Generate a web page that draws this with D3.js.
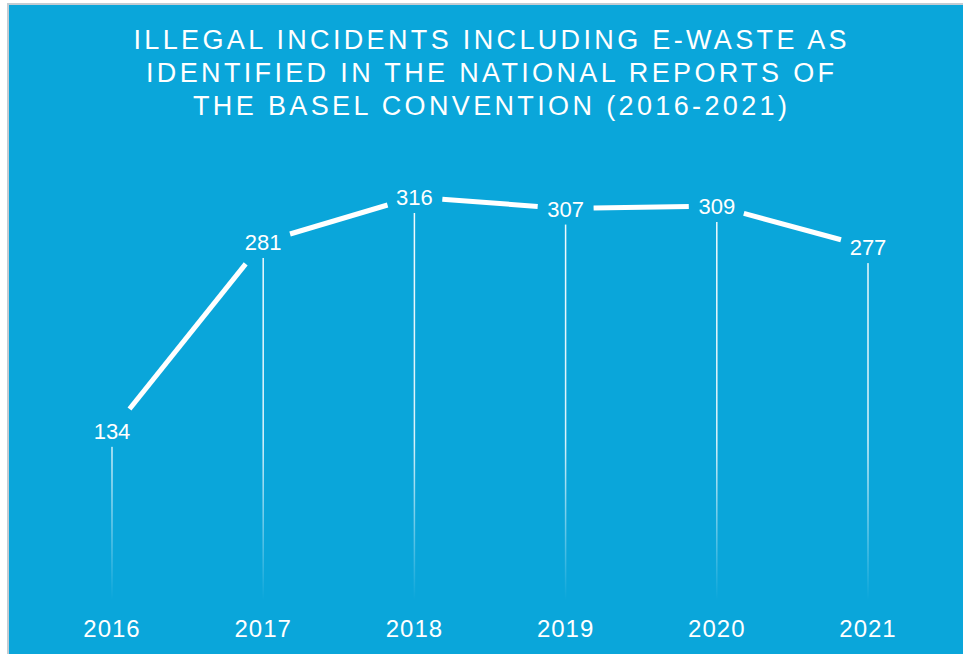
<!DOCTYPE html>
<html lang="en">
<head>
    <meta charset="UTF-8">
    <script src="https://cdnjs.cloudflare.com/ajax/libs/d3/7.8.5/d3.min.js"></script>
    <style>
        body { margin: 0; background: #fff; }
        svg { display: block; }
        text { font-family: "Liberation Sans", Arial, sans-serif; fill: #fff; }
    </style>
</head>
<body>
    <svg width="963" height="654"></svg>
    <script>
        const years = ['2016', '2017', '2018', '2019', '2020', '2021'];
        const incidents = [134, 281, 316, 307, 309, 277];
        const titleLines = [
            'ILLEGAL INCIDENTS INCLUDING E-WASTE AS',
            'IDENTIFIED IN THE NATIONAL REPORTS OF',
            'THE BASEL CONVENTION (2016-2021)'
        ];

        const svg = d3.select('svg');
        const blue = '#0aa6da';

        // frame
        svg.append('rect').attr('x', 7).attr('y', 3).attr('width', 960).attr('height', 660)
            .style('fill', '#c3ccd3');
        svg.append('rect').attr('x', 9).attr('y', 5).attr('width', 960).attr('height', 660)
            .style('fill', blue);

        // title
        const titleWidths = [713, 688, 594];
        svg.append('g').selectAll('text')
            .data(titleLines)
            .enter()
            .append('text')
            .attr('x', 490)
            .attr('y', (d, i) => 49 + i * 33)
            .attr('text-anchor', 'middle')
            .attr('textLength', (d, i) => titleWidths[i])
            .attr('lengthAdjust', 'spacing')
            .style('font-size', '27px')
            .text(d => d);

        const data = years.map((y, i) => ({year: y, value: incidents[i]}));

        const x = d3.scalePoint().domain(years).range([112, 868]);
        const y = d3.scaleLinear().domain([0, 316]).range([603, 197]);

        // gradient for drop lines
        const grad = svg.append('defs').append('linearGradient')
            .attr('id', 'fade')
            .attr('gradientUnits', 'userSpaceOnUse')
            .attr('x1', 0).attr('x2', 0).attr('y1', 200).attr('y2', 600);
        grad.append('stop').attr('offset', 0).style('stop-color', '#fff').style('stop-opacity', 0.95);
        grad.append('stop').attr('offset', 0.6).style('stop-color', '#fff').style('stop-opacity', 0.85);
        grad.append('stop').attr('offset', 1).style('stop-color', '#fff').style('stop-opacity', 0);

        svg.append('g').selectAll('rect')
            .data(data)
            .enter()
            .append('rect')
            .attr('x', d => x(d.year) - 0.75)
            .attr('y', d => y(d.value) + 16)
            .attr('width', 1.5)
            .attr('height', d => 600 - y(d.value) - 16)
            .style('fill', 'url(#fade)');

        // line segments with gaps around labels
        const gap = 28;
        const segs = d3.pairs(data).map(([a, b]) => {
            const x1 = x(a.year), y1 = y(a.value), x2 = x(b.year), y2 = y(b.value);
            const len = Math.hypot(x2 - x1, y2 - y1);
            const ux = (x2 - x1) / len, uy = (y2 - y1) / len;
            return [x1 + ux * gap, y1 + uy * gap, x2 - ux * gap, y2 - uy * gap];
        });
        svg.append('g').selectAll('line')
            .data(segs)
            .enter()
            .append('line')
            .attr('x1', d => d[0]).attr('y1', d => d[1])
            .attr('x2', d => d[2]).attr('y2', d => d[3])
            .style('stroke', '#fff')
            .style('stroke-width', 5);

        // value labels
        svg.append('g').selectAll('text')
            .data(data)
            .enter()
            .append('text')
            .attr('x', d => x(d.year))
            .attr('y', d => y(d.value) + 8)
            .attr('text-anchor', 'middle')
            .style('font-size', '22px')
            .text(d => d.value);

        // year labels
        svg.append('g').selectAll('text')
            .data(years)
            .enter()
            .append('text')
            .attr('x', d => x(d))
            .attr('y', 637)
            .attr('text-anchor', 'middle')
            .style('font-size', '24px')
            .style('letter-spacing', '1px')
            .text(d => d);
    </script>
</body>
</html>
